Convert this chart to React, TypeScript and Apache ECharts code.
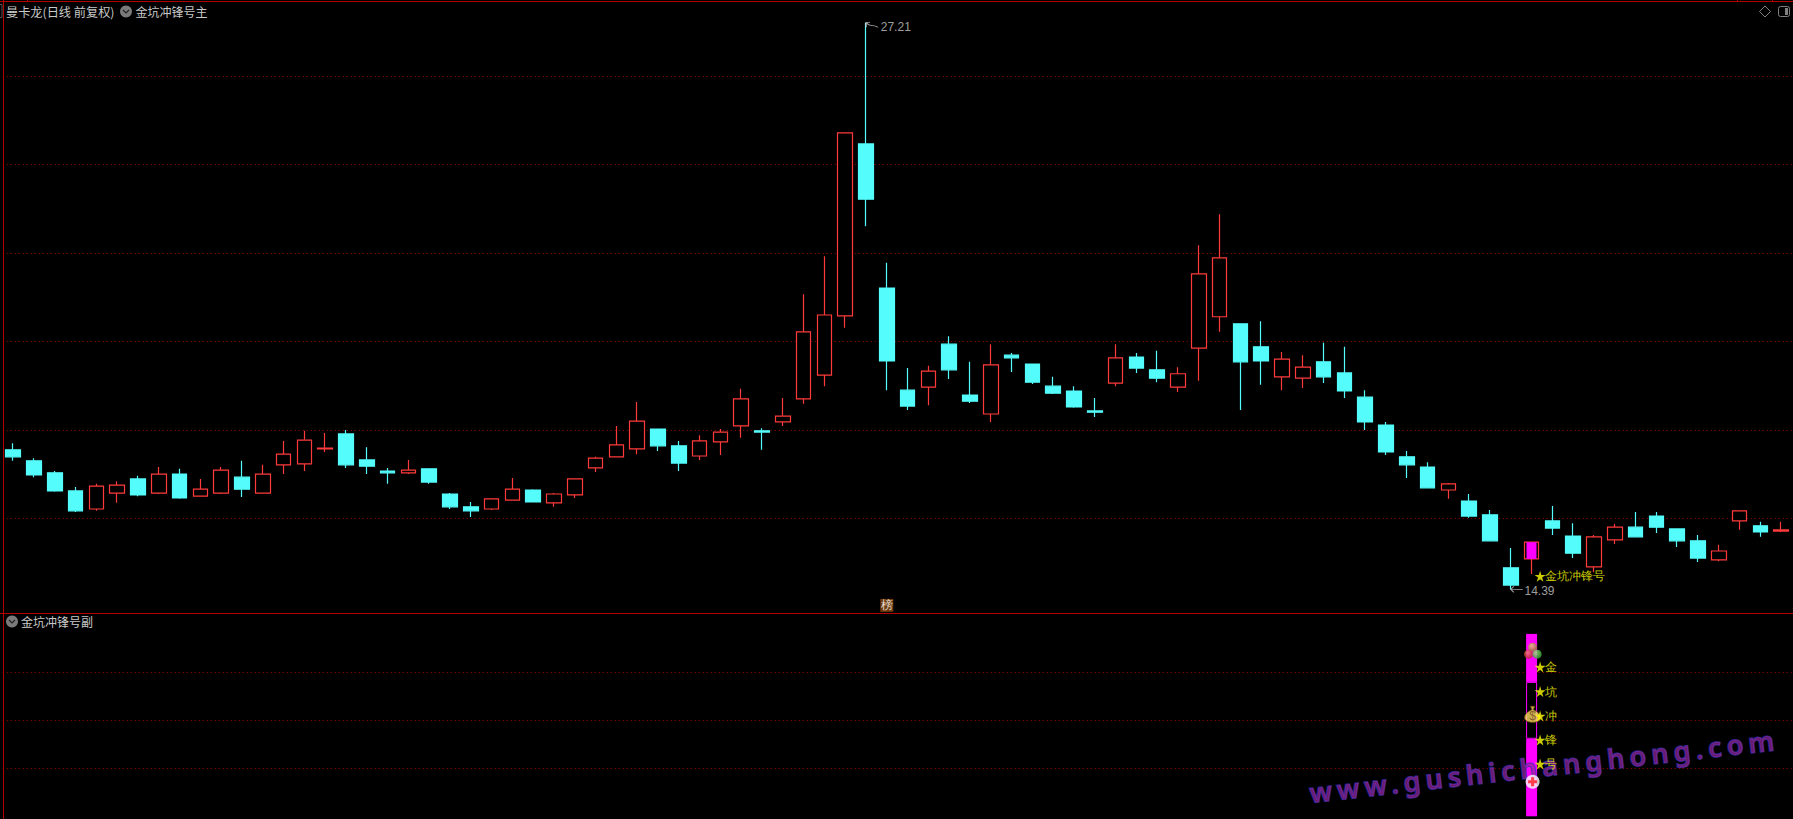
import React, { useEffect, useRef } from "react";
import * as echarts from "echarts";

const opens = [17.55,17.30,17.03,16.62,16.21,16.57,16.89,16.57,17.00,16.50,16.57,16.93,16.57,17.21,17.23,17.57,17.91,17.32,17.07,17.03,17.12,16.55,16.26,16.21,16.41,16.64,16.35,16.53,17.14,17.39,17.57,18.02,17.64,17.41,17.73,18.09,17.98,18.18,18.70,19.24,20.58,24.47,21.21,18.90,18.97,19.94,18.79,18.36,19.69,19.49,18.99,18.88,18.43,19.06,19.65,19.36,18.97,19.85,20.56,20.40,19.88,19.20,19.17,19.54,19.29,18.74,18.11,17.39,17.16,16.64,16.39,16.08,14.88,15.08,15.94,15.60,14.90,15.51,15.80,16.05,15.76,15.49,15.06,15.94,15.83,15.71];
const closes = [17.39,16.98,16.62,16.17,16.73,16.75,16.53,17.00,16.46,16.66,17.09,16.66,17.00,17.45,17.77,17.59,17.21,17.18,17.03,17.09,16.82,16.26,16.17,16.44,16.66,16.37,16.55,16.89,17.36,17.66,18.20,17.64,17.25,17.75,17.95,18.70,17.95,18.31,20.22,20.60,24.72,23.22,19.56,18.54,19.33,19.36,18.65,19.47,19.63,19.08,18.83,18.52,18.40,19.63,19.40,19.17,19.27,21.53,21.89,19.54,19.56,19.60,19.42,19.20,18.88,18.18,17.50,17.21,16.69,16.78,16.05,15.49,14.49,15.46,15.78,15.21,15.58,15.80,15.58,15.80,15.49,15.10,15.26,16.17,15.69,15.74];
const highs = [17.70,17.36,17.07,16.71,16.78,16.84,16.96,17.16,17.12,16.89,17.16,17.30,17.21,17.75,17.98,17.93,18.00,17.61,17.14,17.32,17.12,16.57,16.37,16.44,16.91,16.66,16.57,16.89,17.39,18.09,18.63,18.02,17.75,17.88,18.02,18.93,18.04,18.72,21.07,21.93,24.72,27.21,21.78,19.40,19.45,20.12,19.54,19.94,19.74,19.49,19.20,18.99,18.72,19.94,19.74,19.79,19.42,22.18,22.88,20.40,20.46,19.76,19.69,19.97,19.88,18.90,18.18,17.52,17.27,16.80,16.55,16.19,15.33,15.46,16.28,15.89,15.62,15.87,16.14,16.14,15.76,15.62,15.40,16.17,15.92,15.92];
const lows = [17.30,16.93,16.60,16.14,16.17,16.35,16.50,16.55,16.44,16.50,16.55,16.48,16.57,17.00,17.07,17.50,17.14,17.00,16.78,17.00,16.78,16.21,16.03,16.19,16.41,16.37,16.26,16.46,17.05,17.39,17.45,17.52,17.07,17.32,17.43,17.82,17.55,18.09,18.59,18.99,20.31,22.61,18.90,18.45,18.56,19.15,18.61,18.18,19.31,19.04,18.81,18.50,18.29,18.99,19.29,19.08,18.86,19.11,20.22,18.45,19.02,18.90,18.95,19.06,18.72,18.00,17.43,16.91,16.69,16.44,16.01,15.49,14.39,14.74,15.62,15.10,14.78,15.42,15.58,15.67,15.35,15.01,15.03,15.74,15.58,15.69];
const categories = opens.map((_, i) => String(i));

const highIndex = 41;
const lowIndex = 72;
const signalIndex = 73;
const badgeIndex = 42;
const badgePrice = 14.03;
const signalLabelPrice = 14.69;
const signalName = "金坑冲锋号";
const signalChars = ["金", "坑", "冲", "锋", "号"];
const signalCharValues = [3.11, 2.6, 2.09, 1.59, 1.09];
const subBarLower = 1.615;
const subBarMiddle = 1.185;
const subBarUpper = 1.0;
const ballsValue = 3.44;
const bagValue = 2.125;
const crossValue = 0.72;
const watermarkText = "www.gushichanghong.com";

const RED = "#ff3a3a";
const CYAN = "#54fcfc";
const MAGENTA = "#ff00ff";
const YELLOW = "#ffff00";
const GREY = "#c8c8c8";
const FRAME = "#b00000";
const CJK = '"Noto Sans CJK SC", "Noto Sans", sans-serif';
const NUM = '"Liberation Sans Narrow", "Liberation Sans", sans-serif';

const STAR = "path://M50 0 L61 35 L98 35 L68 57 L79 91 L50 70 L21 91 L32 57 L2 35 L39 35 Z";
const ARROW_HIGH = "path://M0 0 L4 0 M0 0 L0 5 M0 0 C4 5 8 2 12 5";
const ARROW_LOW = "path://M0 3 L12 3 M0 3 L3 0 M0 3 L3 6";
const BAG = "path://M9 0 L15 0 L13 5 C20 8 24 12 24 16 C24 21 18 23 12 23 C6 23 0 21 0 16 C0 12 4 8 11 5 Z";
const CROSS = "path://M3 0 L6 0 L6 3 L9 3 L9 6 L6 6 L6 9 L3 9 L3 6 L0 6 L0 3 L3 3 Z";

const ball = (c1: string, c2: string) => ({
  type: "radial", x: 0.4, y: 0.35, r: 0.7,
  colorStops: [{ offset: 0, color: c1 }, { offset: 1, color: c2 }],
});

const chevronIcon = (x: number, y: number) => ({
  type: "group",
  x, y,
  z: 20,
  children: [
    { type: "circle", shape: { cx: 0, cy: 0, r: 6 }, style: { fill: "#7a7a7a" } },
    { type: "polyline", shape: { points: [[-3, -1.5], [0, 1.5], [3, -1.5]] }, style: { stroke: "#222", lineWidth: 1.2, fill: "none" } },
  ],
});

const header = (text: string, x: number, y: number, size = 12) => ({
  type: "text", x, y, z: 20,
  style: { text, fill: GREY, font: `${size}px ${CJK}`, verticalAlign: "middle", align: "left" },
});

const frameLine = (x1: number, y1: number, x2: number, y2: number) => ({
  type: "line", z: 15, shape: { x1, y1, x2, y2 }, style: { stroke: FRAME, lineWidth: 1 },
});

export default function App() {
  const ref = useRef<HTMLDivElement>(null);
  useEffect(() => {
    document.body.style.margin = "0";
    document.body.style.background = "#000";
    document.body.style.overflow = "hidden";
    const chart = echarts.init(ref.current!, undefined, { renderer: "svg" });
    const yAxisBase = {
      type: "value",
      axisLine: { show: false },
      axisTick: { show: false },
      axisLabel: { show: false },
      splitLine: {
        show: true,
        showMinLine: false,
        showMaxLine: false,
        lineStyle: { color: "#a00000", type: [1, 3], width: 1 },
      },
    };
    const subBar = (value: number, filled: boolean, z: number) => ({
      type: "bar",
      xAxisIndex: 1,
      yAxisIndex: 1,
      stack: "signal",
      barWidth: 11,
      z,
      itemStyle: filled
        ? { color: MAGENTA }
        : { color: "rgba(0,0,0,0)", borderColor: MAGENTA, borderWidth: 1 },
      data: categories.map((_, i) => (i === signalIndex ? value : null)),
    });
    chart.setOption({
      animation: false,
      backgroundColor: "#000",
      grid: [
        { left: 2.8, width: 1788.8, top: 5.6, height: 601.1 },
        { left: 2.8, width: 1788.8, top: 629.1, height: 187.2 },
      ],
      xAxis: [
        { type: "category", gridIndex: 0, data: categories, show: false },
        { type: "category", gridIndex: 1, data: categories, show: false },
      ],
      yAxis: [
        { ...yAxisBase, gridIndex: 0, min: 14, max: 27.6, interval: 2 },
        { ...yAxisBase, gridIndex: 1, min: 0, max: 3.9, interval: 1 },
      ],
      series: [
        {
          type: "candlestick",
          barWidth: 15,
          z: 3,
          itemStyle: { color: "#000", color0: CYAN, borderColor: RED, borderColor0: CYAN, borderColorDoji: RED, borderWidth: 1.2 },
          data: categories.map((_, i) => [opens[i], closes[i], lows[i], highs[i]]),
        },
        {
          type: "candlestick",
          barWidth: 11,
          z: 4,
          itemStyle: { color: MAGENTA, color0: MAGENTA, borderColor: MAGENTA, borderColor0: MAGENTA, borderWidth: 0 },
          data: categories.map((_, i) =>
            i === signalIndex ? [opens[i], closes[i], opens[i], closes[i]] : ["-", "-", "-", "-"]
          ),
        },
        {
          type: "scatter",
          z: 6,
          data: [
            {
              value: [highIndex, highs[highIndex]],
              symbol: ARROW_HIGH,
              symbolSize: [12, 5],
              symbolOffset: [6, 2],
              itemStyle: { color: "rgba(0,0,0,0)", borderColor: GREY, borderWidth: 1 },
              label: { show: true, position: "right", distance: 2, offset: [0, 2], color: GREY, font: `13.5px ${NUM}`, formatter: highs[highIndex].toFixed(2) },
            },
            {
              value: [lowIndex, lows[lowIndex]],
              symbol: ARROW_LOW,
              symbolSize: [12, 6],
              symbolOffset: [6, 0],
              itemStyle: { color: "rgba(0,0,0,0)", borderColor: GREY, borderWidth: 1 },
              label: { show: true, position: "right", distance: 1, offset: [0, 2], color: GREY, font: `13.5px ${NUM}`, formatter: lows[lowIndex].toFixed(2) },
            },
            {
              value: [signalIndex, signalLabelPrice],
              symbol: STAR,
              symbolSize: 11,
              symbolOffset: [8.5, 0],
              itemStyle: { color: YELLOW },
              label: { show: true, position: "right", distance: -1, color: YELLOW, font: `500 12px ${CJK}`, formatter: signalName },
            },
            {
              value: [badgeIndex, badgePrice],
              symbol: "rect",
              symbolSize: 13,
              itemStyle: { color: "#8b4a12" },
              label: { show: true, position: "inside", color: "#fff", font: `500 12px ${CJK}`, formatter: "榜" },
            },
          ],
        },
        subBar(subBarLower, true, 2),
        subBar(subBarMiddle, false, 2),
        subBar(subBarUpper, true, 2),
        {
          type: "scatter",
          xAxisIndex: 1,
          yAxisIndex: 1,
          z: 6,
          symbol: STAR,
          symbolSize: 11,
          symbolOffset: [8.5, 0],
          itemStyle: { color: YELLOW },
          label: { show: true, position: "right", distance: -1, color: YELLOW, font: `500 12px ${CJK}`, formatter: (p: any) => signalChars[p.dataIndex] },
          data: signalCharValues.map((v) => [signalIndex, v]),
        },
        {
          type: "scatter",
          xAxisIndex: 1,
          yAxisIndex: 1,
          z: 5,
          data: [
            { value: [signalIndex, ballsValue], symbol: "circle", symbolSize: 9, symbolOffset: [1, -4], itemStyle: { color: ball("#e8d080", "#8a6a20") } },
            { value: [signalIndex, ballsValue], symbol: "circle", symbolSize: 9, symbolOffset: [-3, 3], itemStyle: { color: ball("#f08070", "#b02020") } },
            { value: [signalIndex, ballsValue], symbol: "circle", symbolSize: 9, symbolOffset: [5.5, 3], itemStyle: { color: ball("#a0f080", "#30a030") } },
            {
              value: [signalIndex, bagValue],
              symbol: BAG,
              symbolSize: [16, 16],
              symbolOffset: [1, 0],
              itemStyle: { color: "#ffe060", borderColor: "#7a5010", borderWidth: 1 },
              label: { show: true, position: "inside", offset: [0, 2], color: "#7a4a30", font: `bold 10px "Liberation Sans"`, formatter: "$" },
            },
            { value: [signalIndex, crossValue], symbol: "circle", symbolSize: 14, symbolOffset: [1, 0], itemStyle: { color: "#fff" } },
            { value: [signalIndex, crossValue], symbol: CROSS, symbolSize: 9, symbolOffset: [1, 0], itemStyle: { color: "#ff1a1a" } },
          ],
        },
      ],
      graphic: [
        frameLine(0, 1.5, 1793, 1.5),
        frameLine(3.5, 0, 3.5, 819),
        frameLine(0, 613.5, 1793, 613.5),
        frameLine(27.5, 0, 27.5, 1),
        frameLine(1737.5, 0, 1737.5, 1),
        frameLine(1772.5, 0, 1772.5, 1),
        { type: "rect", z: 15, shape: { x: -1, y: 4.5, width: 3, height: 13 }, style: { fill: "none", stroke: "#555", lineWidth: 1 } },
        header("曼卡龙(日线 前复权)", 6, 11.5, 12.2),
        chevronIcon(126, 11.5),
        header("金坑冲锋号主", 135.5, 11.5),
        chevronIcon(12, 621.5),
        header("金坑冲锋号副", 21, 621.5),
        { type: "polygon", z: 20, shape: { points: [[1765, 6], [1770.5, 11.5], [1765, 17], [1759.5, 11.5]] }, style: { fill: "none", stroke: "#808080", lineWidth: 1 } },
        { type: "rect", z: 20, shape: { x: 1778.5, y: 6.5, width: 11, height: 10, r: 2 }, style: { fill: "none", stroke: "#808080", lineWidth: 1 } },
        { type: "rect", z: 20, shape: { x: 1785, y: 8, width: 3, height: 7 }, style: { fill: "#808080" } },
        {
          type: "text",
          x: 1311,
          y: 806,
          rotation: (6.5 * Math.PI) / 180,
          z: 4,
          style: {
            text: watermarkText,
            font: `600 27px "Noto Sans"`,
            fill: "rgba(150,40,160,0.7)",
            stroke: "rgba(55,45,170,0.8)",
            lineWidth: 1.5,
            align: "left",
            verticalAlign: "bottom",
          },
        },
      ],
    });
    ref.current!.querySelectorAll("text").forEach((t) => {
      if (t.textContent === watermarkText) (t as SVGTextElement).style.letterSpacing = "5.2px";
    });
    return () => chart.dispose();
  }, []);
  return <div ref={ref} style={{ position: "absolute", left: 0, top: 0, width: 1793, height: 819, background: "#000" }} />;
}
